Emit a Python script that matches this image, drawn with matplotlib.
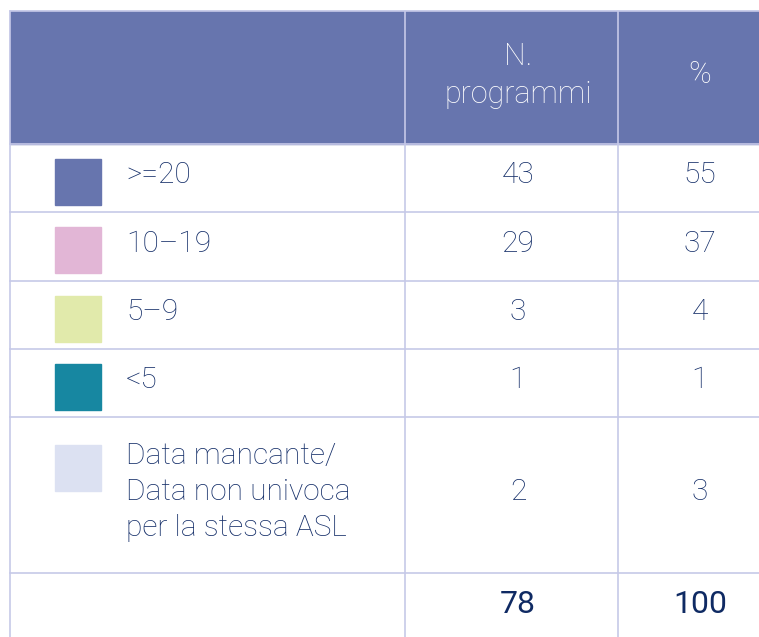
import matplotlib
matplotlib.use("Agg")
import matplotlib.pyplot as plt
from matplotlib.patches import Rectangle

# table content
categories = [">=20", "10\u201319", "5\u20139", "<5", "Data mancante/\nData non univoca\nper la stessa ASL"]
n_programmi = [43, 29, 3, 1, 2]
percentuali = [55, 37, 4, 1, 3]
swatch_colors = ["#6775ae", "#e2b6d6", "#e1eaab", "#1787a1", "#dce1f2"]
header = ["", "N.\nprogrammi", "%"]
totals = ["", "78", "100"]

header_color = "#6775ae"
grid_color = "#c6c9e8"
text_color = "#132d68"
font = ["Roboto", "Liberation Sans", "DejaVu Sans"]
fs = 21.5
line_step = 36.5

W, H = 759, 637
fig = plt.figure(figsize=(W / 100, H / 100), dpi=100)
ax = fig.add_axes([0, 0, 1, 1])
ax.set_xlim(0, W)
ax.set_ylim(H, 0)
ax.axis("off")

# geometry in pixels
col_edges = [10, 405, 618, 782]
row_edges = [11, 144, 212, 281, 349, 417, 573, 660]
col_text_x = [126, 518, 700]


def put_lines(x, y0, text, step, **kw):
    # draw each line at its own baseline
    for k, line in enumerate(text.split("\n")):
        ax.text(x, y0 + k * step, line, va="baseline", **kw)


# header band
ax.add_patch(Rectangle((col_edges[0], row_edges[0]), col_edges[-1] - col_edges[0],
                       row_edges[1] - row_edges[0], color=header_color, zorder=1))
head_base = [0, 65, 83]
for j, h in enumerate(header):
    if h:
        put_lines(col_text_x[j], head_base[j], h, 38, ha="center", color="white",
                  fontsize=fs + 0.5, family=font, fontweight="light")

# body rows
for i, cat in enumerate(categories):
    top, bot = row_edges[i + 1], row_edges[i + 2]
    mid = (top + bot) / 2
    nlines = cat.count("\n") + 1
    first_base = mid + 5 - (nlines - 1) / 2 * line_step
    sw_top = top + 15 if nlines == 1 else first_base - 19
    ax.add_patch(Rectangle((55, sw_top), 46, 46, color=swatch_colors[i], zorder=2))
    put_lines(col_text_x[0], first_base, cat, line_step, ha="left", color=text_color,
              fontsize=fs, family=font, fontweight="light")
    ax.text(col_text_x[1], mid + 5, str(n_programmi[i]), ha="center", va="baseline",
            color=text_color, fontsize=fs, family=font, fontweight="light")
    ax.text(col_text_x[2], mid + 5, str(percentuali[i]), ha="center", va="baseline",
            color=text_color, fontsize=fs, family=font, fontweight="light")

# totals row
for j, t in enumerate(totals):
    if t:
        ax.text(col_text_x[j], 613, t, ha="center", va="baseline",
                color="#0f2a63", fontsize=fs + 1.5, family=font, fontweight="normal")

# grid lines
for y in row_edges:
    ax.plot([col_edges[0], col_edges[-1]], [y, y], color=grid_color, lw=1.2, zorder=3)
for x in col_edges:
    ax.plot([x, x], [row_edges[0], row_edges[-1]], color=grid_color, lw=1.2, zorder=3)

fig.savefig("out.png", dpi=100)
